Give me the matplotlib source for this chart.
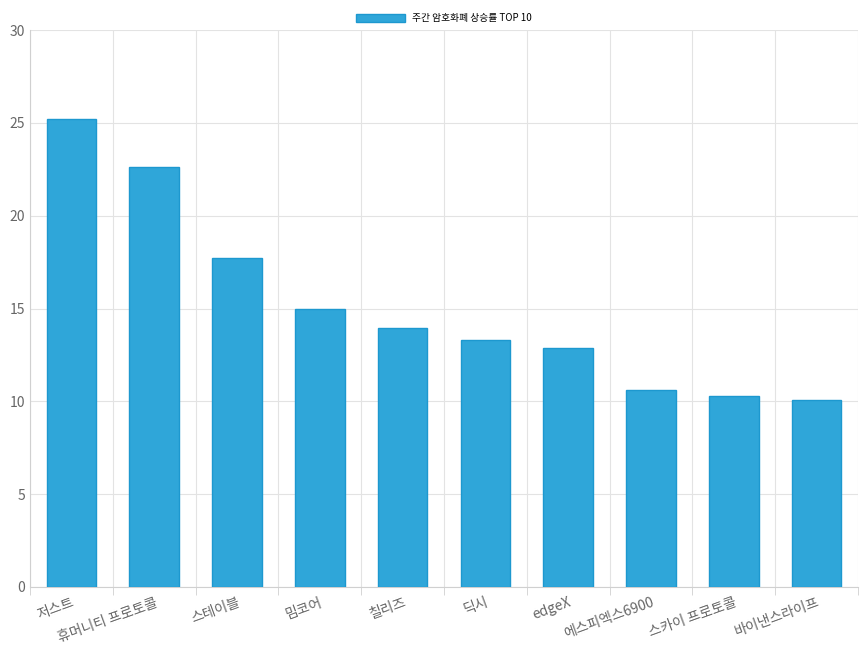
import matplotlib.pyplot as plt
import numpy as np

plt.rcParams['font.family'] = ['Noto Sans CJK KR', 'DejaVu Sans']

coins = ["저스트", "휴머니티 프로토콜", "스테이블", "밈코어", "칠리즈",
         "딕시", "edgeX", "에스피엑스6900", "스카이 프로토콜", "바이낸스라이프"]
gains = [25.2, 22.6, 17.7, 15.0, 13.95, 13.3, 12.85, 10.6, 10.3, 10.05]
yticks = [0, 5, 10, 15, 20, 25, 30]

fig = plt.figure(figsize=(8.6, 6.45), dpi=100)
ax = fig.add_axes([30 / 860, 58 / 645, 828 / 860, 557 / 645])

x = np.arange(len(coins))
ax.bar(x, gains, width=0.6, color="#2fa6d9", edgecolor="#1d98cf",
       linewidth=1, label="주간 암호화폐 상승률 TOP 10", zorder=3)

ax.set_xlim(-0.5, len(coins) - 0.5)
ax.set_ylim(0, 30)
ax.set_yticks(yticks)
ax.set_xticks(x)
ax.set_xticklabels(coins, rotation=20, ha="right", rotation_mode="anchor",
                   color="#666666", fontsize=10)
ax.tick_params(axis="x", length=0, pad=6)
ax.tick_params(axis="y", length=0, colors="#666666", labelsize=10)

ax.set_xticks(np.arange(-0.5, len(coins)), minor=True)
ax.grid(True, which="minor", axis="x", color="#e3e3e3", linewidth=0.8, zorder=0)
ax.grid(True, which="major", axis="y", color="#e3e3e3", linewidth=0.8, zorder=0)
ax.tick_params(axis="x", which="minor", length=6, color="#d0d0d0")

for s in ["top", "right"]:
    ax.spines[s].set_visible(False)
for s in ["left", "bottom"]:
    ax.spines[s].set_color("#d0d0d0")

ax.legend(loc="lower center", bbox_to_anchor=(0.5, 1.0), frameon=False,
          fontsize=7, handlelength=5, handleheight=0.9, borderaxespad=0.3)

fig.savefig("out.png", dpi=100)
